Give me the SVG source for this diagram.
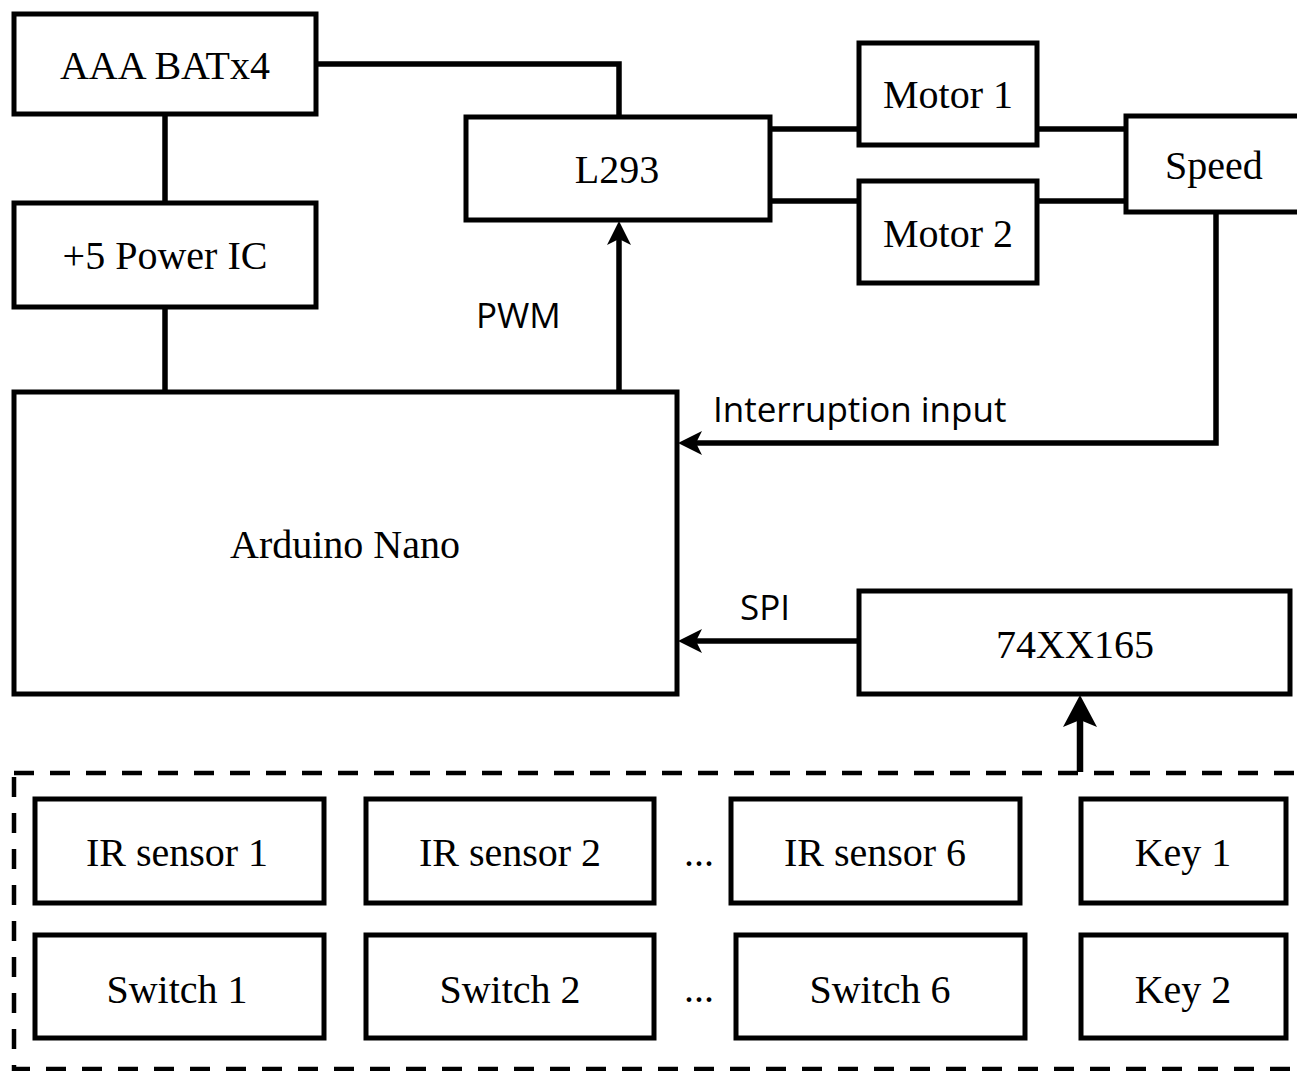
<svg xmlns="http://www.w3.org/2000/svg" width="1297" height="1071" viewBox="0 0 1297 1071">
<style>
.box{fill:#fff;stroke:#000;stroke-width:5}
.lbl{font-family:"Liberation Serif","Times New Roman",serif;font-size:40px;fill:#000;text-anchor:middle}
.sans{font-family:"Open Sans","Noto Sans",sans-serif;font-size:35px;fill:#000}
.wire{fill:none;stroke:#000;stroke-width:5.5}
</style>
<defs>
<marker id="arr" markerUnits="userSpaceOnUse" markerWidth="40" markerHeight="40" refX="0" refY="0" orient="auto" overflow="visible">
<path d="M10,0 L-14,-12 L-8,0 L-14,12 Z" fill="#000"/>
</marker>
<marker id="arrBig" markerUnits="userSpaceOnUse" markerWidth="50" markerHeight="50" refX="0" refY="0" orient="auto" overflow="visible">
<path d="M12,0 L-20,-17 L-13,0 L-20,17 Z" fill="#000"/>
</marker>
</defs>
<rect width="1297" height="1071" fill="#fff"/>
<g id="connectors">
<path class="wire" d="M165,114 V203"/>
<path class="wire" d="M165,307 V392"/>
<path class="wire" d="M316,64 H619 V117"/>
<path class="wire" d="M619,392 V231" marker-end="url(#arr)"/>
<path class="wire" d="M770,129 H859"/>
<path class="wire" d="M770,201 H859"/>
<path class="wire" d="M1037,129 H1126"/>
<path class="wire" d="M1037,201 H1126"/>
<path class="wire" d="M1216,212 V443 H688" marker-end="url(#arr)"/>
<path class="wire" d="M859,641 H688" marker-end="url(#arr)"/>
<path class="wire" style="stroke-width:6.5" d="M1080,772 V707" marker-end="url(#arrBig)"/>
<text class="sans" x="476" y="328">PWM</text>
<text class="sans" x="713" y="422">Interruption input</text>
<text class="sans" x="740" y="620">SPI</text>
</g>
<g id="group">
<rect x="14" y="773" width="1300" height="296" fill="none" stroke="#000" stroke-width="4.5" stroke-dasharray="20 16"/>
</g>
<g id="bat"><rect class="box" x="14" y="14" width="302" height="100"/><text class="lbl" x="165" y="79">AAA BATx4</text></g>
<g id="power"><rect class="box" x="14" y="203" width="302" height="104"/><text class="lbl" x="165" y="269">+5 Power IC</text></g>
<g id="arduino"><rect class="box" x="14" y="392" width="663" height="302"/><text class="lbl" x="345" y="558">Arduino Nano</text></g>
<g id="l293"><rect class="box" x="466" y="117" width="304" height="103"/><text class="lbl" x="617" y="183">L293</text></g>
<g id="motor1"><rect class="box" x="859" y="43" width="178" height="102"/><text class="lbl" x="948" y="108">Motor 1</text></g>
<g id="motor2"><rect class="box" x="859" y="181" width="178" height="102"/><text class="lbl" x="948" y="247">Motor 2</text></g>
<g id="speed"><rect class="box" x="1126" y="116" width="190" height="96"/><text class="lbl" x="1214" y="179">Speed</text></g>
<g id="shift"><rect class="box" x="859" y="591" width="431" height="103"/><text class="lbl" x="1075" y="658">74XX165</text></g>
<g id="ir1"><rect class="box" x="35" y="799" width="289" height="104"/><text class="lbl" x="177" y="866">IR sensor 1</text></g>
<g id="ir2"><rect class="box" x="366" y="799" width="288" height="104"/><text class="lbl" x="510" y="866">IR sensor 2</text></g>
<g id="dots1"><text class="lbl" x="699" y="866">...</text></g>
<g id="ir6"><rect class="box" x="731" y="799" width="289" height="104"/><text class="lbl" x="875" y="866">IR sensor 6</text></g>
<g id="key1"><rect class="box" x="1081" y="799" width="205" height="104"/><text class="lbl" x="1183" y="866">Key 1</text></g>
<g id="sw1"><rect class="box" x="35" y="935" width="289" height="103"/><text class="lbl" x="177" y="1003">Switch 1</text></g>
<g id="sw2"><rect class="box" x="366" y="935" width="288" height="103"/><text class="lbl" x="510" y="1003">Switch 2</text></g>
<g id="dots2"><text class="lbl" x="699" y="1002">...</text></g>
<g id="sw6"><rect class="box" x="736" y="935" width="289" height="103"/><text class="lbl" x="880" y="1003">Switch 6</text></g>
<g id="key2"><rect class="box" x="1081" y="935" width="205" height="103"/><text class="lbl" x="1183" y="1003">Key 2</text></g>
</svg>
